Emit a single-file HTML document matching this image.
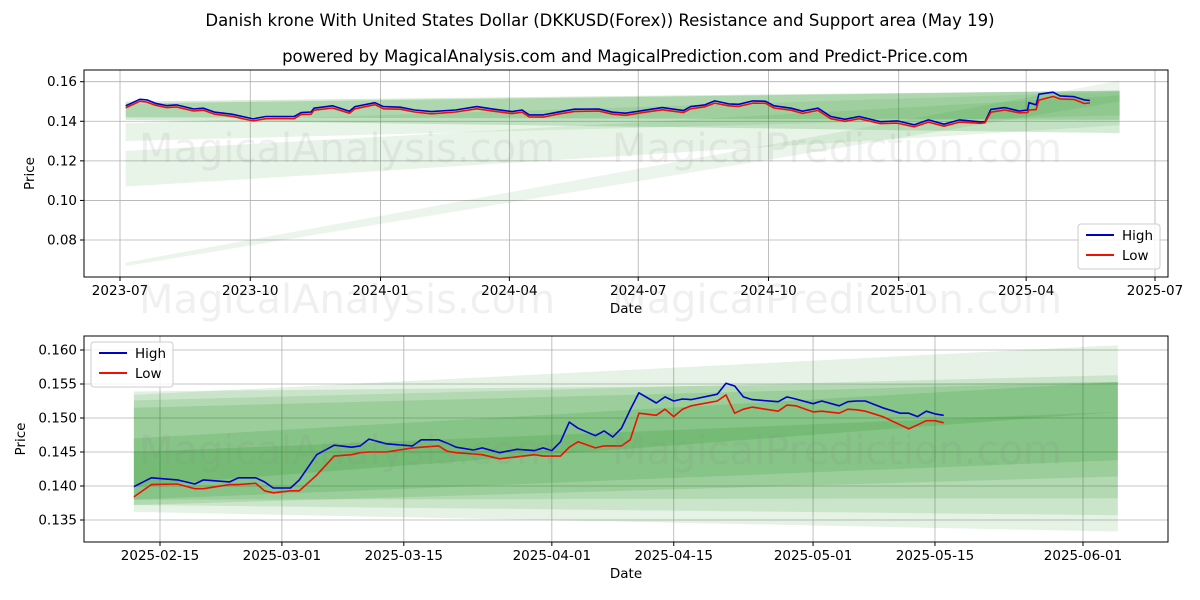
<!DOCTYPE html>
<html><head><meta charset="utf-8"><style>
body{margin:0;background:#fff;}
svg{display:block;font-family:"DejaVu Sans","Liberation Sans",sans-serif;}
</style></head><body>
<svg id="c" width="1200" height="600" viewBox="0 0 1200 600" xmlns="http://www.w3.org/2000/svg">
<rect width="1200" height="600" fill="#fff"/>
<text x="600" y="26" text-anchor="middle" font-size="16.5" fill="#000">Danish krone With United States Dollar (DKKUSD(Forex)) Resistance and Support area (May 19)</text>
<text x="625" y="62" text-anchor="middle" font-size="16.5" fill="#000">powered by MagicalAnalysis.com and MagicalPrediction.com and Predict-Price.com</text>
<g id="top"></g>
<g id="bot"></g>
<g font-size="40" fill="#888" fill-opacity="0.13">
<text x="347" y="162" text-anchor="middle">MagicalAnalysis.com</text>
<text x="837" y="162" text-anchor="middle">MagicalPrediction.com</text>
<text x="347" y="313" text-anchor="middle">MagicalAnalysis.com</text>
<text x="837" y="313" text-anchor="middle">MagicalPrediction.com</text>
<text x="347" y="464" text-anchor="middle">MagicalAnalysis.com</text>
<text x="837" y="464" text-anchor="middle">MagicalPrediction.com</text>
</g>
</svg>
<script>
// ---------- top chart data ----------
const topDates = ["2023-07-05","2023-07-15","2023-07-20","2023-07-26","2023-08-03","2023-08-10","2023-08-22","2023-08-29","2023-09-06","2023-09-18","2023-10-03","2023-10-12","2023-10-24","2023-11-01","2023-11-06","2023-11-13","2023-11-15","2023-11-28","2023-12-10","2023-12-14","2023-12-28","2024-01-03","2024-01-15","2024-01-25","2024-02-06","2024-02-23","2024-03-09","2024-03-21","2024-04-03","2024-04-10","2024-04-15","2024-04-25","2024-05-05","2024-05-17","2024-06-03","2024-06-13","2024-06-22","2024-07-04","2024-07-18","2024-08-02","2024-08-07","2024-08-17","2024-08-24","2024-09-03","2024-09-10","2024-09-20","2024-09-29","2024-10-05","2024-10-17","2024-10-25","2024-11-05","2024-11-14","2024-11-24","2024-12-04","2024-12-19","2024-12-31","2025-01-12","2025-01-22","2025-02-02","2025-02-13","2025-02-28","2025-03-03","2025-03-07","2025-03-17","2025-03-27","2025-04-02","2025-04-03","2025-04-08","2025-04-10","2025-04-20","2025-04-25","2025-05-05","2025-05-12","2025-05-16"];
const topHigh = [0.1478,0.1511,0.1508,0.1491,0.1479,0.1483,0.1462,0.1466,0.1446,0.1436,0.1412,0.1424,0.1424,0.1424,0.1444,0.1447,0.1466,0.1478,0.1451,0.1474,0.1494,0.1474,0.1471,0.1457,0.1449,0.1457,0.1474,0.1461,0.1449,0.1457,0.1432,0.1432,0.1446,0.1461,0.1462,0.1446,0.1441,0.1454,0.1469,0.1454,0.1474,0.1483,0.1503,0.1488,0.1486,0.1503,0.1501,0.1478,0.1466,0.1451,0.1466,0.1424,0.1410,0.1424,0.1398,0.1402,0.1382,0.1407,0.1385,0.1407,0.1397,0.1398,0.1460,0.1469,0.1452,0.1457,0.1494,0.1483,0.1537,0.1547,0.1528,0.1524,0.1508,0.1505];
const topLow  = [0.1468,0.1501,0.1497,0.1481,0.1469,0.1472,0.1452,0.1456,0.1436,0.1425,0.1402,0.1413,0.1414,0.1413,0.1434,0.1436,0.1456,0.1467,0.1441,0.1463,0.1484,0.1463,0.1461,0.1447,0.1438,0.1447,0.1463,0.1451,0.1439,0.1446,0.1422,0.1421,0.1436,0.1450,0.1452,0.1436,0.1430,0.1444,0.1458,0.1444,0.1463,0.1473,0.1492,0.1478,0.1475,0.1492,0.1491,0.1467,0.1456,0.1440,0.1455,0.1413,0.1400,0.1413,0.1388,0.1391,0.1372,0.1396,0.1375,0.1396,0.1390,0.1393,0.1446,0.1457,0.1443,0.1444,0.1457,0.1459,0.1507,0.1525,0.1513,0.1510,0.1490,0.1493];
const topTickLabels = ["2023-07","2023-10","2024-01","2024-04","2024-07","2024-10","2025-01","2025-04","2025-07"];
const topYTicks = [0.08,0.10,0.12,0.14,0.16];
const topBandStart = "2023-07-05", topBandEnd = "2025-06-06";
const topBandTopStart = [0.1500,0.1490,0.1390,0.1250,0.0686];
const topBandBotStart = [0.1407,0.1420,0.1300,0.1070,0.0668];
const topBandTopEnd   = [0.1555,0.1555,0.1550,0.1530,0.1605];
const topBandBotEnd   = [0.1340,0.1407,0.1430,0.1380,0.1500];
const topBandAlpha    = [0.16,0.18,0.09,0.09,0.08];

// ---------- bottom chart data ----------
const botDates = ["2025-02-12","2025-02-14","2025-02-17","2025-02-19","2025-02-20","2025-02-23","2025-02-24","2025-02-26","2025-02-27","2025-02-28","2025-03-02","2025-03-03","2025-03-05","2025-03-07","2025-03-09","2025-03-10","2025-03-11","2025-03-13","2025-03-16","2025-03-17","2025-03-19","2025-03-20","2025-03-21","2025-03-23","2025-03-24","2025-03-26","2025-03-28","2025-03-30","2025-03-31","2025-04-01","2025-04-02","2025-04-03","2025-04-04","2025-04-06","2025-04-07","2025-04-08","2025-04-09","2025-04-10","2025-04-11","2025-04-13","2025-04-14","2025-04-15","2025-04-16","2025-04-17","2025-04-20","2025-04-21","2025-04-22","2025-04-23","2025-04-24","2025-04-27","2025-04-28","2025-04-29","2025-05-01","2025-05-02","2025-05-04","2025-05-05","2025-05-06","2025-05-07","2025-05-09","2025-05-11","2025-05-12","2025-05-13","2025-05-14","2025-05-15","2025-05-16"];
const botHigh = [0.1399,0.1412,0.1409,0.1403,0.1409,0.1406,0.1412,0.1412,0.1406,0.1397,0.1397,0.1409,0.1446,0.1460,0.1457,0.1459,0.1469,0.1462,0.1459,0.1468,0.1468,0.1463,0.1457,0.1453,0.1456,0.1449,0.1454,0.1452,0.1456,0.1452,0.1465,0.1494,0.1485,0.1474,0.1481,0.1472,0.1485,0.1512,0.1537,0.1522,0.1531,0.1525,0.1528,0.1527,0.1535,0.1551,0.1547,0.1531,0.1527,0.1524,0.1531,0.1528,0.1521,0.1525,0.1518,0.1524,0.1525,0.1525,0.1515,0.1507,0.1507,0.1502,0.1510,0.1506,0.1504];
const botLow  = [0.1384,0.1402,0.1403,0.1396,0.1396,0.1402,0.1402,0.1404,0.1393,0.1390,0.1393,0.1393,0.1416,0.1444,0.1446,0.1449,0.1450,0.1450,0.1456,0.1457,0.1459,0.1451,0.1449,0.1447,0.1446,0.1440,0.1443,0.1446,0.1444,0.1444,0.1444,0.1457,0.1465,0.1456,0.1459,0.1459,0.1459,0.1468,0.1507,0.1504,0.1513,0.1502,0.1513,0.1518,0.1525,0.1534,0.1507,0.1513,0.1516,0.1510,0.1519,0.1518,0.1509,0.1510,0.1507,0.1513,0.1512,0.1510,0.1502,0.1490,0.1484,0.1490,0.1496,0.1496,0.1493];
const botTickLabels = ["2025-02-15","2025-03-01","2025-03-15","2025-04-01","2025-04-15","2025-05-01","2025-05-15","2025-06-01"];
const botYTicks = [0.135,0.140,0.145,0.150,0.155,0.160];
const botBandStart = "2025-02-12", botBandEnd = "2025-06-05";
const botBandTopStart = [0.1534,0.1526,0.1515,0.1539,0.1470,0.1450];
const botBandBotStart = [0.1362,0.1372,0.1380,0.1372,0.1400,0.1380];
const botBandTopEnd   = [0.1607,0.1563,0.1553,0.1553,0.1553,0.1509];
const botBandBotEnd   = [0.1333,0.1357,0.1382,0.1414,0.1509,0.1438];
const botBandAlpha    = [0.10,0.11,0.12,0.12,0.13,0.13];

const NS = "http://www.w3.org/2000/svg";
function mk(tag, attrs, parent){const e=document.createElementNS(NS,tag);for(const k in attrs)e.setAttribute(k,attrs[k]);parent.appendChild(e);return e;}
const dnum = s => Date.parse(s+"T00:00:00Z")/86400000;

function panel(g, P){
  const X = d => P.x0 + (dnum(d)-dnum(P.dRef0))/(dnum(P.dRef1)-dnum(P.dRef0))*(P.xr1-P.x0);
  const Y = v => P.yRef0 + (v-P.vRef0)/(P.vRef1-P.vRef0)*(P.yRef1-P.yRef0);
  P.xticks.forEach(t=>{
    const x=X(P.tickDate(t));
    const l=mk("line",{x1:x,x2:x,y1:P.top,y2:P.bottom,stroke:"#b0b0b0","stroke-width":0.8},g);
    
    
  });
  P.yticks.forEach(v=>{
    const y=Y(v);
    const l=mk("line",{x1:P.left,x2:P.right,y1:y,y2:y,stroke:"#b0b0b0","stroke-width":0.8},g);
    
    
  });
  for(let i=0;i<P.bts.length;i++){
    const xs=X(P.bs), xe=X(P.be);
    const pts=[[xs,Y(P.bts[i])],[xe,Y(P.bte[i])],[xe,Y(P.bbe[i])],[xs,Y(P.bbs[i])]].map(p=>p.join(",")).join(" ");
    const b=mk("polygon",{points:pts,fill:"#008000","fill-opacity":P.ba[i]},g);
    
    
  }
  [[P.hi,"#0000cc","high-line"],[P.lo,"#ee1100","low-line"]].forEach(([arr,col,nm])=>{
    const d=arr.map((v,i)=>(i?"L":"M")+X(P.dates[i]).toFixed(1)+","+Y(v).toFixed(1)).join("");
    const p=mk("path",{d:d,fill:"none",stroke:col,"stroke-width":1.6,"stroke-linejoin":"round"},g);
    
    
  });
  const f=mk("rect",{x:P.left,y:P.top,width:P.right-P.left,height:P.bottom-P.top,fill:"none",stroke:"#000","stroke-width":1},g);
  
  
  P.xticks.forEach(t=>{
    const x=X(P.tickDate(t));
    const l=mk("line",{x1:x,x2:x,y1:P.bottom,y2:P.bottom+4,stroke:"#000"},g);
    
    
    const tx=mk("text",{x:x,y:P.bottom+18,"text-anchor":"middle","font-size":13.5,fill:"#000"},g);
    tx.textContent=t;
    
    
  });
  P.yticks.forEach(v=>{
    const y=Y(v);
    const l=mk("line",{x1:P.left-4,x2:P.left,y1:y,y2:y,stroke:"#000"},g);
    
    
    const tx=mk("text",{x:P.left-7,y:y+4.5,"text-anchor":"end","font-size":13.5,fill:"#000"},g);
    tx.textContent=v.toFixed(P.dec);
    
    
  });
  const xl=mk("text",{x:(P.left+P.right)/2,y:P.bottom+36,"text-anchor":"middle","font-size":13.5},g);
  xl.textContent="Date";
  
  
  const yl=mk("text",{x:0,y:0,"text-anchor":"middle","font-size":13.5,transform:`translate(${P.ylx},${(P.top+P.bottom)/2}) rotate(-90)`},g);
  yl.textContent="Price";
  
  
  const lg=mk("g",{},g);
  
  
  mk("rect",{x:P.lx,y:P.ly,width:82,height:45,rx:3,fill:"#fff","fill-opacity":0.85,stroke:"#ccc"},lg);
  [["High","#0000cc",15],["Low","#ee1100",35]].forEach(([t,c,dy])=>{
    const e=mk("g",{},lg);
    
    
    mk("line",{x1:P.lx+8,x2:P.lx+36,y1:P.ly+dy-4,y2:P.ly+dy-4,stroke:c,"stroke-width":2},e);
    const tx=mk("text",{x:P.lx+44,y:P.ly+dy+1,"font-size":13.5},e);
    tx.textContent=t;
  });
}

panel(document.getElementById("top"),{
  left:84,right:1168,top:70,bottom:277,
  x0:120,xr1:1155,dRef0:"2023-07-01",dRef1:"2025-07-01",
  yRef0:81.7,yRef1:240,vRef0:0.16,vRef1:0.08,
  xticks:topTickLabels,tickDate:t=>t+"-01",yticks:topYTicks,dec:2,
  dates:topDates,hi:topHigh,lo:topLow,
  bs:topBandStart,be:topBandEnd,bts:topBandTopStart,bbs:topBandBotStart,bte:topBandTopEnd,bbe:topBandBotEnd,ba:topBandAlpha,
  ylx:34,lx:1078,ly:224
});
panel(document.getElementById("bot"),{
  left:84,right:1168,top:336,bottom:542,
  x0:160,xr1:1083,dRef0:"2025-02-15",dRef1:"2025-06-01",
  yRef0:350,yRef1:520,vRef0:0.160,vRef1:0.135,
  xticks:botTickLabels,tickDate:t=>t,yticks:botYTicks,dec:3,
  dates:botDates,hi:botHigh,lo:botLow,
  bs:botBandStart,be:botBandEnd,bts:botBandTopStart,bbs:botBandBotStart,bte:botBandTopEnd,bbe:botBandBotEnd,ba:botBandAlpha,
  ylx:25,lx:91,ly:342
});
</script>
</body></html>
